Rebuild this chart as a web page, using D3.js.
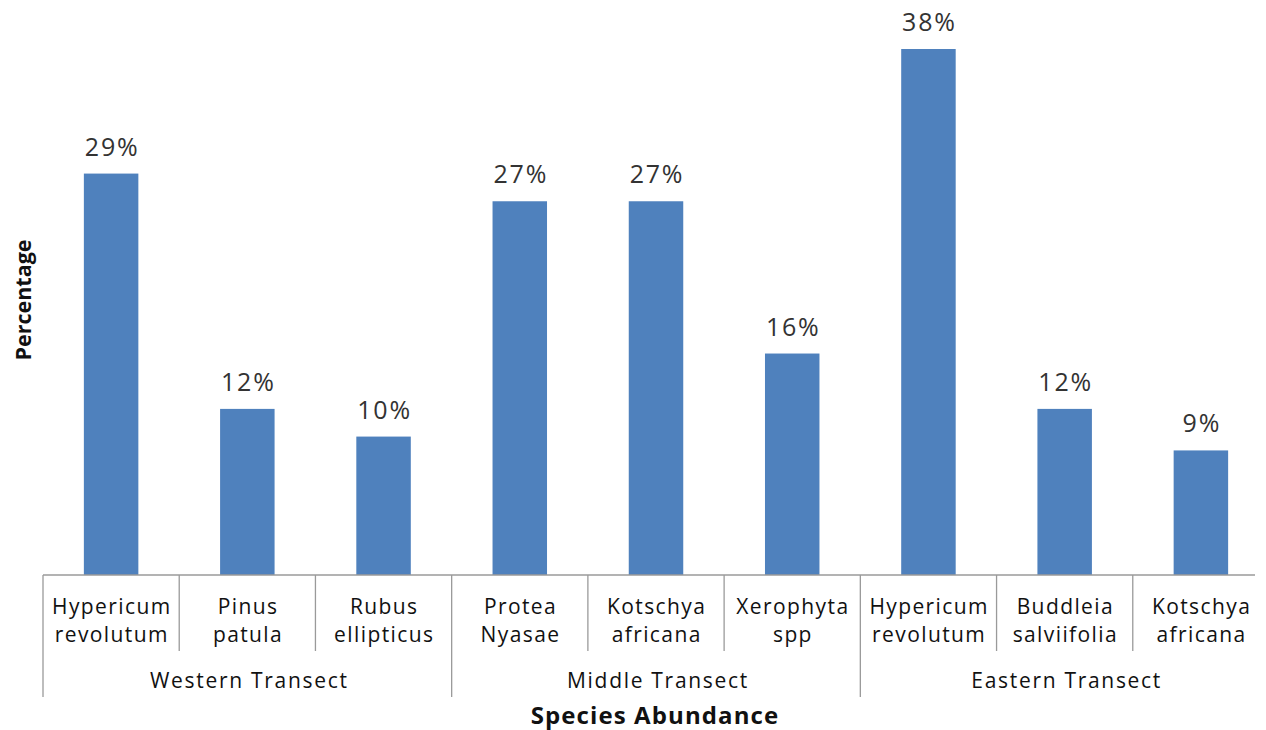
<!DOCTYPE html>
<html><head><meta charset="utf-8">
<script src="https://cdn.jsdelivr.net/npm/d3@7/dist/d3.min.js"></script>
<style>body{margin:0;background:#fff}svg{display:block}text{font-family:"Open Sans",Lato,sans-serif}</style>
</head><body><svg id="c" width="1266" height="730"></svg>
<script>
const species = [["Hypericum","revolutum"],["Pinus","patula"],["Rubus","ellipticus"],["Protea","Nyasae"],["Kotschya","africana"],["Xerophyta","spp"],["Hypericum","revolutum"],["Buddleia","salviifolia"],["Kotschya","africana"]];
const groups = ["Western Transect","Middle Transect","Eastern Transect"];
const groupOf = [0,0,0,1,1,1,2,2,2];
const values = [29,12,10,27,27,16,38,12,9];
const labels = ["29%","12%","10%","27%","27%","16%","38%","12%","9%"];

const svg = d3.select("#c");
const x0 = 43, x1 = 1269, base = 575, axisEnd = 1255;
const ids = d3.range(species.length);
const x = d3.scaleBand().domain(ids).range([x0, x1]).paddingInner(0.6).paddingOuter(0.3);
const y = d3.scaleLinear().domain([0, 38]).range([base, 49]);
const cellL = i => x0 + i*(x1-x0)/species.length;

svg.append("g").selectAll("rect").data(values).join("rect")
  .attr("x",(d,i)=>x(i)).attr("y",d=>y(d)).attr("width",x.bandwidth()).attr("height",d=>base-y(d))
  .attr("fill","#4F81BD");

svg.append("g").selectAll("text").data(values).join("text")
  .attr("x",(d,i)=>x(i)+x.bandwidth()/2+1).attr("y",d=>y(d)-18)
  .attr("text-anchor","middle").attr("font-size",25).attr("letter-spacing",1.8).attr("fill","#333")
  .text((d,i)=>labels[i]);

const ax = svg.append("g").attr("stroke","#9a9a9a").attr("stroke-width",1.3);
ax.append("line").attr("x1",x0).attr("x2",axisEnd).attr("y1",base).attr("y2",base);
for (let i=0;i<=species.length;i++){
  const xx = cellL(i);
  if (xx > axisEnd) continue;
  const isGroup = (i%3===0);
  ax.append("line").attr("x1",xx).attr("x2",xx).attr("y1",base).attr("y2",isGroup?697:651);
}
const cat = svg.append("g").attr("font-size",21).attr("letter-spacing",1.4).attr("fill","#111").attr("text-anchor","middle");
species.forEach((s,i)=>{
  const cx = x(i)+x.bandwidth()/2+0.7;
  cat.append("text").attr("x",cx).attr("y",614).text(s[0]);
  cat.append("text").attr("x",cx).attr("y",642).text(s[1]);
});
groups.forEach((g,gi)=>{
  const idx = ids.filter(i=>groupOf[i]===gi);
  const cx = (cellL(idx[0]) + cellL(idx[idx.length-1]+1))/2 + 2;
  cat.append("text").attr("x",cx).attr("y",688).attr("letter-spacing",1.7).text(g);
});
svg.append("text").attr("x",655).attr("y",724).attr("text-anchor","middle").attr("font-size",24).attr("letter-spacing",1.1).attr("font-weight","bold").attr("fill","#111").text("Species Abundance");
svg.append("text").attr("transform","translate(31,300) rotate(-90)").attr("text-anchor","middle").attr("font-size",21.5).attr("font-weight","bold").attr("fill","#111").text("Percentage");
</script></body></html>
